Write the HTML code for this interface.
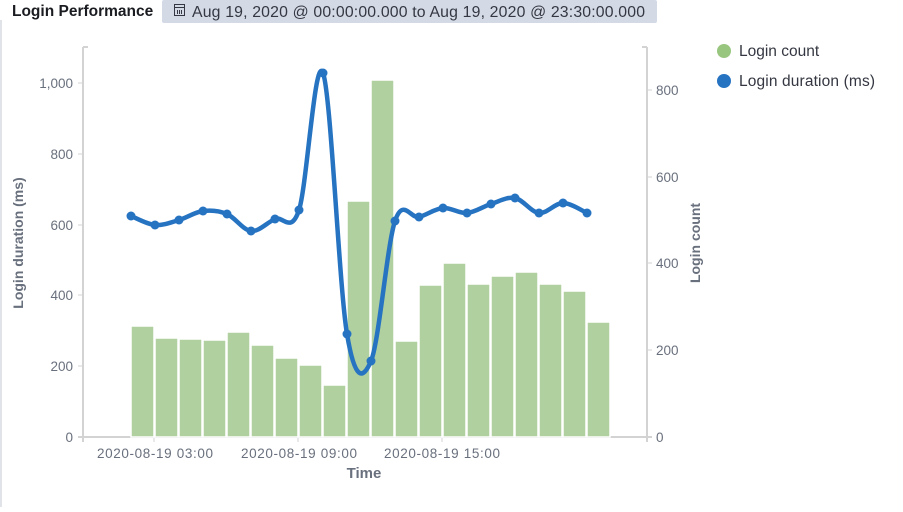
<!DOCTYPE html>
<html><head><style>
body{margin:0;width:903px;height:507px;background:#fff;overflow:hidden;font-family:"Liberation Sans",sans-serif;}
</style></head><body>
<svg width="903" height="507" xmlns="http://www.w3.org/2000/svg" font-family="Liberation Sans, sans-serif">
<line x1="1" y1="20" x2="1" y2="507" stroke="#e0e3e8" stroke-width="2"/>
<text x="12" y="16" font-size="15.5" font-weight="bold" fill="#1a1c21">Login Performance</text>
<rect x="162" y="0" width="495" height="23" rx="2" fill="#d3dae6"/>
<g fill="none" stroke="#343741" stroke-width="1">
<rect x="174.5" y="4.5" width="10" height="11"/><line x1="174" y1="7.5" x2="185" y2="7.5"/>
<line x1="177.5" y1="10" x2="177.5" y2="14"/><line x1="179.5" y1="10" x2="179.5" y2="14"/><line x1="181.5" y1="10" x2="181.5" y2="14"/>
</g>
<text x="192" y="17" font-size="15.8" fill="#343741" textLength="453">Aug 19, 2020 @ 00:00:00.000 to Aug 19, 2020 @ 23:30:00.000</text>
<g stroke="#d3d3d3" stroke-width="2" fill="none">
<line x1="83" y1="47" x2="83" y2="442"/>
<line x1="647" y1="47" x2="647" y2="442"/>
<line x1="78" y1="437" x2="652" y2="437"/>
<line x1="83" y1="47" x2="88" y2="47"/><line x1="642" y1="47" x2="647" y2="47"/>
</g>
<g stroke="#d3d3d3" stroke-width="1">
<line x1="78" y1="83" x2="83" y2="83"/><line x1="78" y1="154" x2="83" y2="154"/><line x1="78" y1="225" x2="83" y2="225"/><line x1="78" y1="295" x2="83" y2="295"/><line x1="78" y1="366" x2="83" y2="366"/>
<line x1="647" y1="90" x2="652" y2="90"/><line x1="647" y1="177" x2="652" y2="177"/><line x1="647" y1="263" x2="652" y2="263"/><line x1="647" y1="350" x2="652" y2="350"/>
<line x1="154" y1="437" x2="154" y2="442"/><line x1="298" y1="437" x2="298" y2="442"/><line x1="442" y1="437" x2="442" y2="442"/>
</g>
<g font-size="13.5" fill="#69707d" text-anchor="end">
<text x="73" y="88">1,000</text><text x="73" y="159">800</text><text x="73" y="230">600</text><text x="73" y="300">400</text><text x="73" y="371">200</text><text x="73" y="442">0</text>
</g>
<g font-size="13.5" fill="#69707d">
<text x="656" y="95">800</text><text x="656" y="182">600</text><text x="656" y="268">400</text><text x="656" y="355">200</text><text x="656" y="442">0</text>
</g>
<g font-size="13.5" fill="#69707d" text-anchor="middle">
<text x="155" y="458" textLength="116">2020-08-19 03:00</text><text x="299" y="458" textLength="116">2020-08-19 09:00</text><text x="442" y="458" textLength="116">2020-08-19 15:00</text>
</g>
<text x="364" y="478" font-size="15" font-weight="bold" fill="#69707d" text-anchor="middle">Time</text>
<text transform="translate(23,243) rotate(-90)" font-size="14" font-weight="bold" fill="#69707d" text-anchor="middle">Login duration (ms)</text>
<text transform="translate(700,243) rotate(-90)" font-size="14" font-weight="bold" fill="#69707d" text-anchor="middle">Login count</text>
<g fill="#b0d0a0" stroke="#fff" stroke-width="1.5" id="bars"></g>
<path id="line" fill="none" stroke="#2673c2" stroke-width="4.5" stroke-linejoin="round"/>
<g id="pts" fill="#2673c2"></g>
<circle cx="724" cy="51" r="7" fill="#98c67f"/>
<text x="739" y="56" font-size="15.5" fill="#343741">Login count</text>
<circle cx="724" cy="81" r="7" fill="#2673c2"/>
<text x="739" y="86" font-size="15.5" fill="#343741" textLength="136">Login duration (ms)</text>
</svg>
<script>
var tops=[326,338,339,340,332,345,358,365,385,201,80,341,285,263,284,276,272,284,291,322];
var ys=[216,225,220,211,214,231,219,210,73,334,361,221,217,208,213,204,198,213,203,213];
var ns="http://www.w3.org/2000/svg",b=document.getElementById('bars'),p=document.getElementById('pts');
for(var i=0;i<20;i++){var x=131+24*i;var r=document.createElementNS(ns,'rect');r.setAttribute('x',x);r.setAttribute('y',tops[i]);r.setAttribute('width',23);r.setAttribute('height',437-tops[i]);b.appendChild(r);}
var P=ys.map(function(y,i){return [131+24*i,y];});
var d='M'+P[0][0]+','+P[0][1];
for(var i=0;i<P.length-1;i++){var p0=P[Math.max(0,i-1)],p1=P[i],p2=P[i+1],p3=P[Math.min(P.length-1,i+2)];
var t=1/6;d+=' C'+(p1[0]+(p2[0]-p0[0])*t)+','+(p1[1]+(p2[1]-p0[1])*t)+' '+(p2[0]-(p3[0]-p1[0])*t)+','+(p2[1]-(p3[1]-p1[1])*t)+' '+p2[0]+','+p2[1];}
document.getElementById('line').setAttribute('d',d);
P.forEach(function(q){var c=document.createElementNS(ns,'circle');c.setAttribute('cx',q[0]);c.setAttribute('cy',q[1]);c.setAttribute('r',4.5);p.appendChild(c);});
</script>
</body></html>
